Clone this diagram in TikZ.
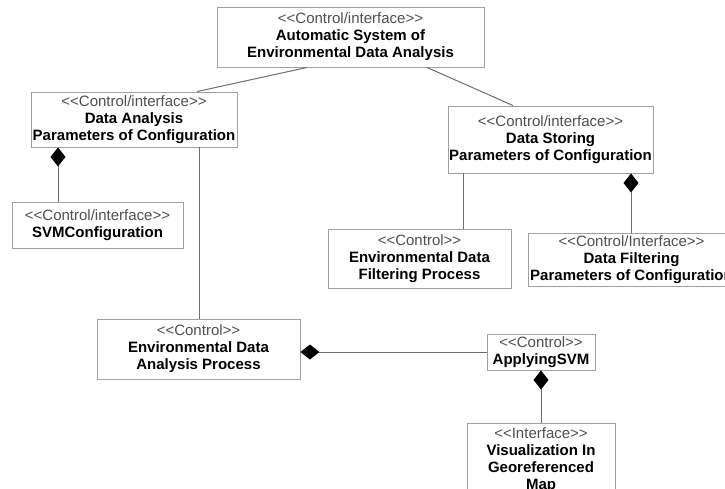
\documentclass[tikz,border=0pt]{standalone}
\usepackage{fontspec}
\setmainfont{Liberation Sans}
\usetikzlibrary{arrows.meta}
\definecolor{boxline}{HTML}{A0A0A0}
\definecolor{linkline}{HTML}{6E6E6E}
\definecolor{stereo}{HTML}{505050}
\newcommand{\stype}[1]{\textcolor{stereo}{\textless\kern0pt\textless #1\textgreater\kern0pt\textgreater}}

\begin{document}
\begin{tikzpicture}[x=1pt, y=-1pt, inner sep=0pt]
	\tikzstyle{every node}=[align=center, font=\fontsize{15}{17}\selectfont]
	\tikzstyle{umlbox}=[draw=boxline, fill=white, line width=0.9pt]
	\tikzstyle{link}=[draw=linkline, line width=1pt]
	\tikzstyle{comp}=[link, -{Diamond[length=19pt, width=15pt, color=black]}]
	\useasboundingbox (0,0) rectangle (725,488);
	\clip (0,0) rectangle (725,488);
		\node[umlbox, minimum width=267pt, minimum height=60pt] (auto) at (350.5, 37) {\stype{Control/interface}\\ \textbf{Automatic System of}\\ \textbf{Environmental Data Analysis}};
		\node[umlbox, minimum width=206pt, minimum height=55pt] (danalysis) at (134, 119.5) {\stype{Control/interface}\\ \textbf{Data Analysis}\\ \textbf{Parameters of Configuration}};
		\node[umlbox, minimum width=171pt, minimum height=46pt] (svmconf) at (97.5, 225) {\stype{Control/interface}\\ \textbf{SVMConfiguration}};
		\node[umlbox, minimum width=205pt, minimum height=67pt] (dstoring) at (550.5, 139.5) {\stype{Control/interface}\\ \textbf{Data Storing}\\ \textbf{Parameters of Configuration}};
		\node[umlbox, minimum width=183pt, minimum height=59pt] (efilter) at (419.5, 258.5) {\stype{Control}\\ \textbf{Environmental Data}\\ \textbf{Filtering Process}};
		\node[umlbox, minimum width=207pt, minimum height=53pt] (dfilter) at (631.5, 259.5) {\stype{Control/Interface}\\ \textbf{Data Filtering}\\ \textbf{Parameters of Configuration}};
		\node[umlbox, minimum width=203pt, minimum height=60pt] (eanalysis) at (198.5, 349) {\stype{Control}\\ \textbf{Environmental Data}\\ \textbf{Analysis Process}};
		\node[umlbox, minimum width=108pt, minimum height=36pt] (applysvm) at (541, 352) {\stype{Control}\\ \textbf{ApplyingSVM}};
		\node[umlbox, minimum width=148pt, minimum height=74pt] (visual) at (541, 460) {\stype{Interface}\\ \textbf{Visualization In}\\ \textbf{Georeferenced}\\ \textbf{Map}};

		\draw[link] (auto.south -| 307,0) -- (danalysis.north -| 197,0);
		\draw[link] (auto.south -| 427,0) -- (dstoring.north -| 513,0);
		\draw[link] (danalysis.south -| 199,0) -- (eanalysis.north -| 199,0);
		\draw[link] (dstoring.south -| 463,0) -- (efilter.north -| 463,0);
		\draw[comp] (svmconf.north -| 58,0) -- (danalysis.south -| 58,0);
		\draw[comp] (dfilter.north -| 631,0) -- (dstoring.south -| 631,0);
		\draw[comp] (applysvm.west) -- (eanalysis.east |- applysvm.west);
		\draw[comp] (visual.north) -- (applysvm.south);
\end{tikzpicture}
\end{document}
